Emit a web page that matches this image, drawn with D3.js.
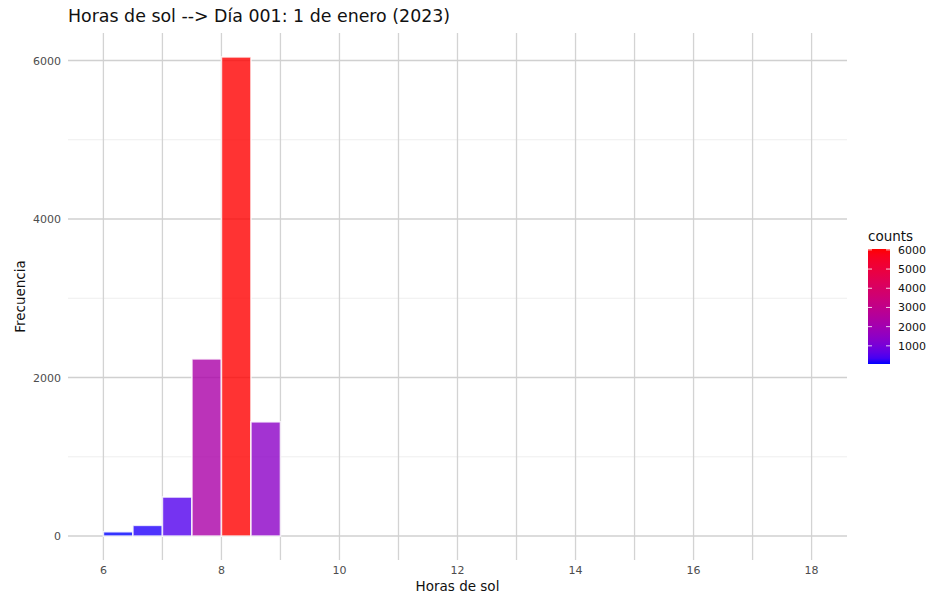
<!DOCTYPE html>
<html><head><meta charset="utf-8">
<script src="https://cdn.jsdelivr.net/npm/d3@7"></script>
<style>body{margin:0;background:#fff}svg{display:block;font-family:"DejaVu Sans",sans-serif}</style>
</head><body><svg id="c" width="926" height="598"></svg>
<script>
const binStarts = [6.0, 6.5, 7.0, 7.5, 8.0, 8.5];
const binWidth = 0.5;
const counts = [54, 135, 492, 2235, 6045, 1441];
const xTicks = [6, 8, 10, 12, 14, 16, 18];
const xGrid = [6, 7, 8, 9, 10, 11, 12, 13, 14, 15, 16, 17, 18];
const yTicks = [0, 2000, 4000, 6000];
const yMinor = [1000, 3000, 5000];
const legendTicks = [1000, 2000, 3000, 4000, 5000, 6000];
const titleText = "Horas de sol --> Día 001: 1 de enero (2023)";

const svg = d3.select("#c");
const L = 68, R = 847, T = 33, B = 560;
const x = d3.scaleLinear().domain([5.4, 18.6]).range([L, R]);
const yMax = d3.max(counts);
const y = d3.scaleLinear().domain([-0.05 * yMax, yMax * 1.05]).range([B, T]);
const cmin = d3.min(counts), cmax = d3.max(counts);
const color = d3.scaleLinear().domain([cmin, cmax]).range(["blue", "red"]).interpolate(d3.interpolateLab);

// grid
const g = svg.append("g");
g.selectAll(".hm").data(yMinor).join("line")
  .attr("x1", L).attr("x2", R).attr("y1", d => y(d)).attr("y2", d => y(d))
  .attr("stroke", "#ececec").attr("stroke-width", 0.9);
g.selectAll(".vg").data(xGrid).join("line")
  .attr("x1", d => x(d)).attr("x2", d => x(d)).attr("y1", T).attr("y2", B)
  .attr("stroke", "#d3d3d3").attr("stroke-width", 1.3);
g.selectAll(".hM").data(yTicks).join("line")
  .attr("x1", L).attr("x2", R).attr("y1", d => y(d)).attr("y2", d => y(d))
  .attr("stroke", "#d0d0d0").attr("stroke-width", 1.5);

// bars
svg.append("g").selectAll("rect").data(counts).join("rect")
  .attr("x", (d, i) => x(binStarts[i]))
  .attr("width", (d, i) => x(binStarts[i] + binWidth) - x(binStarts[i]))
  .attr("y", d => y(d))
  .attr("height", d => y(0) - y(d))
  .attr("fill", d => color(d)).attr("fill-opacity", 0.8)
  .attr("stroke", "#fff").attr("stroke-opacity", 0.8).attr("stroke-width", 1.6);

// axes labels
svg.append("g").selectAll("text").data(xTicks).join("text")
  .attr("x", d => x(d)).attr("y", 574).attr("text-anchor", "middle")
  .attr("font-size", 11).attr("fill", "#4d4d4d").text(d => d);
svg.append("g").selectAll("text").data(yTicks).join("text")
  .attr("x", 61).attr("y", d => y(d) + 4).attr("text-anchor", "end")
  .attr("font-size", 11).attr("fill", "#4d4d4d").text(d => d);

svg.append("text").attr("x", (L + R) / 2).attr("y", 591).attr("text-anchor", "middle")
  .attr("font-size", 13.5).attr("fill", "#111").text("Horas de sol");
svg.append("text").attr("transform", `translate(25,${(T + B) / 2}) rotate(-90)`)
  .attr("text-anchor", "middle").attr("font-size", 13.5).attr("fill", "#111").text("Frecuencia");
svg.append("text").attr("x", L).attr("y", 22).attr("font-size", 17.4).attr("fill", "#111").text(titleText);

// legend
const lx = 868, lw = 22, lTop = 249, lBot = 364;
const ly = d3.scaleLinear().domain([cmin, cmax]).range([lBot, lTop]);
const defs = svg.append("defs");
const grad = defs.append("linearGradient").attr("id", "lg").attr("x1", 0).attr("x2", 0).attr("y1", 1).attr("y2", 0);
d3.range(0, 1.0001, 0.05).forEach(t => {
  grad.append("stop").attr("offset", t).attr("stop-color", color(cmin + t * (cmax - cmin)));
});
svg.append("text").attr("x", lx).attr("y", 241).attr("font-size", 13.5).attr("fill", "#111").text("counts");
svg.append("rect").attr("x", lx).attr("y", lTop).attr("width", lw).attr("height", lBot - lTop).attr("fill", "url(#lg)");
const lt = svg.append("g");
legendTicks.forEach(v => {
  lt.append("line").attr("x1", lx).attr("x2", lx + 4).attr("y1", ly(v)).attr("y2", ly(v)).attr("stroke", "#fff").attr("stroke-opacity", 0.8);
  lt.append("line").attr("x1", lx + lw - 4).attr("x2", lx + lw).attr("y1", ly(v)).attr("y2", ly(v)).attr("stroke", "#fff").attr("stroke-opacity", 0.8);
  lt.append("text").attr("x", lx + lw + 8).attr("y", ly(v) + 4).attr("font-size", 11).attr("fill", "#111").text(v);
});
</script></body></html>
